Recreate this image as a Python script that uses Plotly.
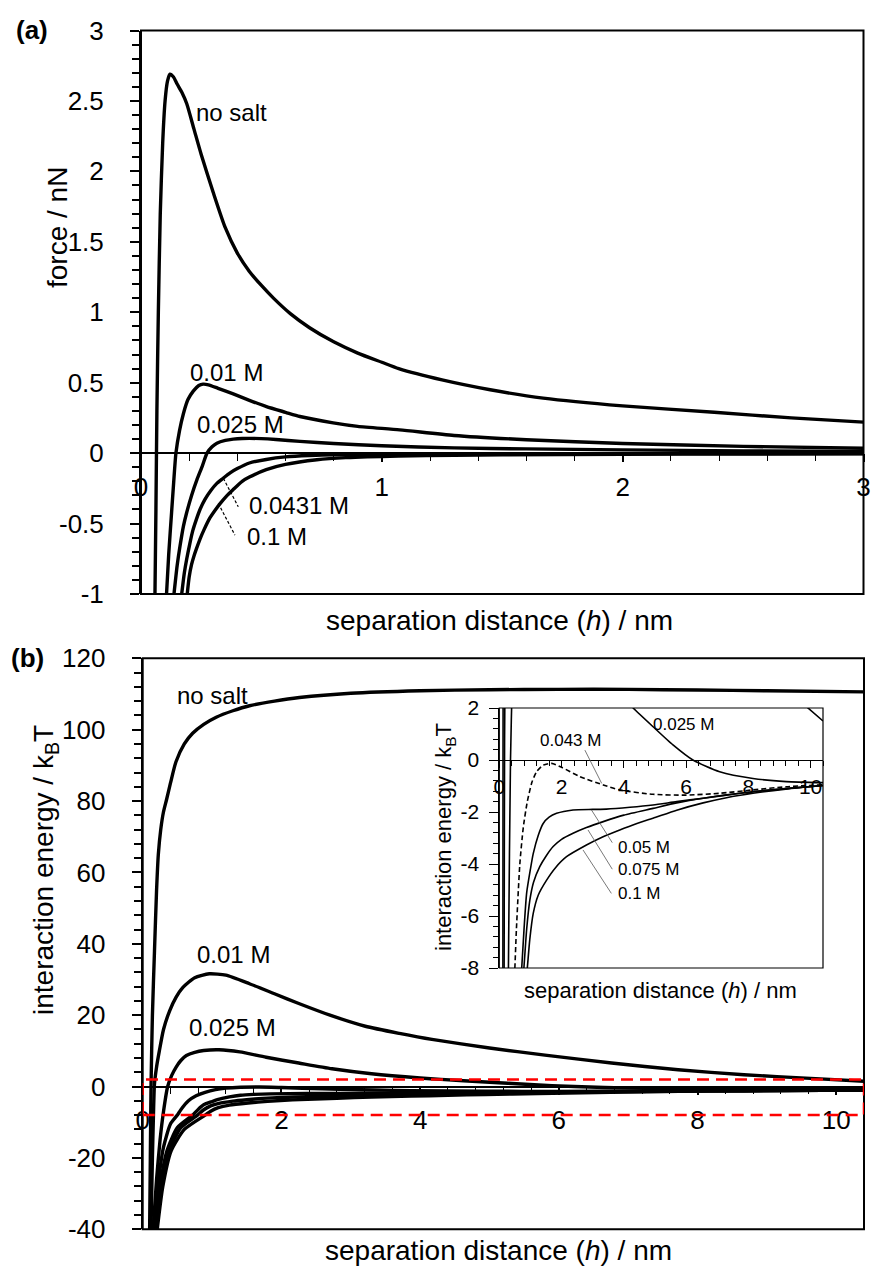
import plotly.graph_objects as go

W, H = 871, 1267
FONT = "Liberation Sans, Arial, Helvetica, sans-serif"

# ---------------- Panel (a): force / nN vs separation distance ----------------
a_nosalt_h = [0.058, 0.062, 0.066, 0.072, 0.08, 0.09, 0.10, 0.11, 0.12, 0.135, 0.15, 0.17, 0.19, 0.22,
              0.25, 0.30, 0.35, 0.40, 0.45, 0.50, 0.55, 0.62, 0.70, 0.80, 0.90, 1.0, 1.07, 1.25, 1.45, 1.67,
              2.0, 2.38, 2.7, 3.0]
a_nosalt_F = [-1.0, -0.4, 0.3, 1.0, 1.7, 2.2, 2.5, 2.64, 2.69, 2.67, 2.62, 2.56, 2.48, 2.3,
              2.12, 1.85, 1.6, 1.42, 1.29, 1.19, 1.10, 0.99, 0.89, 0.79, 0.71, 0.645, 0.60, 0.52, 0.45, 0.39,
              0.335, 0.29, 0.25, 0.22]

a_001_h = [0.106, 0.115, 0.127, 0.136, 0.145, 0.16, 0.176, 0.195, 0.217, 0.24, 0.258, 0.28, 0.32, 0.383,
           0.45, 0.521, 0.6, 0.66, 0.798, 0.9, 1.074, 1.3, 1.6, 2.0, 2.5, 3.0]
a_001_F = [-1.0, -0.72, -0.42, -0.2, 0.0, 0.16, 0.28, 0.38, 0.44, 0.48, 0.49, 0.485, 0.46, 0.42,
           0.375, 0.33, 0.29, 0.26, 0.215, 0.19, 0.165, 0.125, 0.095, 0.068, 0.048, 0.035]

a_0025_h = [0.137, 0.15, 0.162, 0.176, 0.19, 0.21, 0.232, 0.255, 0.274, 0.295, 0.315, 0.35, 0.383, 0.42,
            0.45, 0.5, 0.56, 0.66, 0.8, 1.0, 1.3, 1.6, 2.0, 2.5, 3.0]
a_0025_F = [-1.0, -0.8, -0.66, -0.52, -0.42, -0.3, -0.19, -0.09, 0.0, 0.045, 0.07, 0.09, 0.099, 0.104,
            0.105, 0.103, 0.097, 0.083, 0.068, 0.052, 0.037, 0.03, 0.023, 0.016, 0.012]

a_00431_h = [0.169, 0.18, 0.19, 0.203, 0.215, 0.23, 0.245, 0.265, 0.29, 0.315, 0.34, 0.37, 0.40, 0.45,
             0.52, 0.6, 0.7, 0.8, 1.0, 1.5, 2.0, 2.5, 3.0]
a_00431_F = [-1.0, -0.85, -0.75, -0.64, -0.55, -0.47, -0.40, -0.33, -0.265, -0.215, -0.18, -0.14, -0.11, -0.07,
             -0.045, -0.027, -0.017, -0.012, -0.008, -0.005, -0.004, -0.003, -0.003]

a_01_h = [0.192, 0.2, 0.21, 0.22, 0.23, 0.245, 0.26, 0.286, 0.31, 0.33, 0.355, 0.382, 0.42, 0.45,
          0.52, 0.6, 0.73, 0.85, 1.07, 1.3, 1.5, 2.0, 2.5, 3.0]
a_01_F = [-1.0, -0.88, -0.79, -0.73, -0.68, -0.61, -0.55, -0.46, -0.40, -0.355, -0.305, -0.26, -0.2, -0.17,
          -0.117, -0.08, -0.047, -0.032, -0.02, -0.015, -0.012, -0.008, -0.006, -0.005]

a_xtickvals = [0, 1, 2, 3]
a_xticktext = ["0", "1", "2", "3"]
a_ytickvals = [-1, -0.5, 0, 0.5, 1, 1.5, 2, 2.5, 3]
a_yticktext = ["-1", "-0.5", "0", "0.5", "1", "1.5", "2", "2.5", "3"]

# ---------------- Panel (b): interaction energy / kBT vs separation distance ----------------
b_nosalt_h = [0.10, 0.11, 0.12, 0.14, 0.17, 0.20, 0.225, 0.26, 0.30, 0.345, 0.40, 0.48, 0.60, 0.72, 0.88,
              1.06, 1.3, 1.54, 1.9, 2.26, 3.0, 4.0, 5.0, 6.0, 7.0, 8.0, 9.0, 10.4]
b_nosalt_E = [-40, -20, 0, 20, 38, 55, 65, 72, 77, 80.5, 85, 91, 96, 99, 101.5,
              103.5, 105.3, 106.7, 108, 109, 110.2, 110.9, 111.2, 111.3, 111.3, 111.1, 110.9, 110.6]

b_001_h = [0.12, 0.14, 0.155, 0.17, 0.2, 0.24, 0.3, 0.39, 0.48, 0.58, 0.75, 0.96, 1.2, 1.54, 1.9,
           2.26, 2.7, 3.21, 3.7, 4.17, 5.0, 5.8, 6.76, 7.72, 8.67, 9.63, 10.4]
b_001_E = [-40, -20, -8, 0.8, 5.5, 10, 16, 21.3, 25, 27.8, 30.5, 31.6, 31.2, 28.8, 26,
           23.2, 20, 16.9, 14.9, 13.2, 10.8, 8.8, 6.6, 4.7, 3.3, 2.3, 1.5]

b_0025_h = [0.15, 0.2, 0.25, 0.3, 0.36, 0.42, 0.48, 0.55, 0.63, 0.75, 0.88, 1.1, 1.4, 1.78, 2.25,
            2.73, 3.3, 4.0, 4.3, 4.94, 5.58, 6.22, 7.08, 8.15, 9.22, 10.4]
b_0025_E = [-40, -26, -15, -7, 0, 3.2, 5.4, 7.3, 8.7, 9.6, 10.1, 10.3, 9.7, 8.2, 6.6,
            5.0, 3.6, 2.4, 2.0, 1.28, 0.58, 0.0, -0.45, -0.71, -0.83, -0.87]

b_0043_h = [0.17, 0.22, 0.3, 0.4, 0.5, 0.55, 0.66, 0.77, 0.9, 1.05, 1.2, 1.41, 1.68, 2.0, 2.59,
            3.34, 3.87, 4.94, 6.0, 7.08, 8.15, 9.22, 10.4]
b_0043_E = [-40, -28, -17, -10.5, -8, -6.5, -4.0, -2.6, -1.6, -0.85, -0.45, -0.2, -0.13, -0.28, -0.64,
            -0.96, -1.15, -1.32, -1.35, -1.28, -1.15, -1.03, -0.95]

b_005_h = [0.19, 0.25, 0.35, 0.5, 0.72, 0.8, 0.88, 1.0, 1.09, 1.25, 1.41, 1.6, 1.84, 2.37, 3.0,
           3.44, 4.2, 4.94, 5.7, 6.55, 7.3, 8.15, 9.2, 10.4]
b_005_E = [-40, -28, -18, -11.5, -8, -6.4, -5.1, -4.2, -3.6, -2.9, -2.44, -2.2, -2.05, -1.92, -1.9,
           -1.89, -1.82, -1.73, -1.6, -1.47, -1.35, -1.22, -1.1, -0.98]

b_0075_h = [0.2, 0.27, 0.38, 0.55, 0.79, 0.88, 0.98, 1.1, 1.3, 1.5, 1.73, 2.0, 2.37, 2.8, 3.34,
            4.0, 4.94, 5.7, 6.55, 7.3, 8.15, 9.2, 10.4]
b_0075_E = [-40, -28, -18, -11.5, -8, -6.5, -5.4, -4.7, -4.1, -3.7, -3.33, -3.05, -2.82, -2.6, -2.37,
            -2.12, -1.86, -1.65, -1.47, -1.34, -1.22, -1.1, -0.98]

b_01_h = [0.21, 0.29, 0.41, 0.6, 0.9, 0.98, 1.09, 1.25, 1.52, 1.8, 2.16, 2.8, 3.3, 3.87, 4.4,
          4.94, 5.7, 6.55, 7.3, 8.15, 9.2, 10.4]
b_01_E = [-40, -28, -18, -12, -8, -6.9, -5.9, -5.2, -4.62, -4.15, -3.72, -3.27, -2.97, -2.69, -2.45,
          -2.24, -1.93, -1.65, -1.45, -1.28, -1.12, -0.98]

b_xtickvals = [0, 2, 4, 6, 8, 10]
b_xticktext = ["0", "2", "4", "6", "8", "10"]
b_ytickvals = [-40, -20, 0, 20, 40, 60, 80, 100, 120]
b_yticktext = ["-40", "-20", "0", "20", "40", "60", "80", "100", "120"]

i_xtickvals = [0, 2, 4, 6, 8, 10]
i_xticktext = ["0", "2", "4", "6", "8", "10"]
i_ytickvals = [-8, -6, -4, -2, 0, 2]
i_yticktext = ["-8", "-6", "-4", "-2", "0", "2"]

A_XRANGE, A_YRANGE = [0, 3], [-1, 3]
B_XRANGE, B_YRANGE = [0, 10.4], [-40, 120]
I_XRANGE, I_YRANGE = [0, 10.4], [-8, 2]

# ---------------- layout geometry (pixels) ----------------
def px(x):
    return x / W

def py(y):
    return 1 - y / H

A_XDOM = [px(141), px(863.5)]
A_YDOM = [py(594), py(30.5)]
B_XDOM = [px(142.7), px(864)]
B_YDOM = [py(1229.3), py(658.3)]
I_XDOM = [px(499.3), px(823)]
I_YDOM = [py(968), py(708)]


def zero_pos(ydom, yr):
    return ydom[0] + (0 - yr[0]) / (yr[1] - yr[0]) * (ydom[1] - ydom[0])


def xaxis(dom, rng, pos, vals, text, dmin, fs, tl, mtl, standoff, lw):
    return dict(domain=dom, range=rng, anchor="free", position=pos, showline=True, automargin=False,
                linecolor="black", linewidth=lw, ticks="outside", ticklen=tl, tickwidth=lw,
                tickcolor="black", tickmode="array", tickvals=vals, ticktext=text,
                tickfont=dict(size=fs, color="black", family=FONT), showgrid=False, zeroline=False,
                ticklabelstandoff=standoff,
                minor=dict(ticks="outside", ticklen=mtl, tickwidth=lw * 0.8, tickcolor="black",
                           tick0=0, dtick=dmin, showgrid=False))


def yaxis(dom, rng, anchor, vals, text, dmin, fs, tl, mtl, standoff, lw):
    return dict(domain=dom, range=rng, anchor=anchor, side="left", showline=True, automargin=False,
                linecolor="black", linewidth=lw, ticks="outside", ticklen=tl, tickwidth=lw,
                tickcolor="black", tickmode="array", tickvals=vals, ticktext=text,
                tickfont=dict(size=fs, color="black", family=FONT), showgrid=False, zeroline=False,
                ticklabelstandoff=standoff,
                minor=dict(ticks="outside", ticklen=mtl, tickwidth=lw * 0.8, tickcolor="black",
                           tick0=0, dtick=dmin, showgrid=False))


def inner_ticks_x(over, dom, rng, pos, vals, tl, lw):
    # the inner half of the major ticks (major ticks cross the axis line)
    return dict(overlaying=over, domain=dom, range=rng, anchor="free", position=pos, showline=False,
                automargin=False, ticks="inside", ticklen=tl, tickwidth=lw, tickcolor="black",
                tickmode="array", tickvals=vals, showticklabels=False, showgrid=False, zeroline=False)


def inner_ticks_y(over, dom, rng, anchor, vals, tl, lw):
    return dict(overlaying=over, domain=dom, range=rng, anchor=anchor, side="left", showline=False,
                automargin=False, ticks="inside", ticklen=tl, tickwidth=lw, tickcolor="black",
                tickmode="array", tickvals=vals, showticklabels=False, showgrid=False, zeroline=False)


fig = go.Figure()

MAIN_LW = 3.4
INSET_LW = 1.6


def add_line(x, y, xa, ya, width, dash="solid"):
    fig.add_trace(go.Scatter(x=x, y=y, mode="lines", xaxis=xa, yaxis=ya,
                             line=dict(color="black", width=width, dash=dash, shape="spline", smoothing=0.6),
                             showlegend=False, hoverinfo="skip"))


# panel (a)
for hx, fy in [(a_nosalt_h, a_nosalt_F), (a_001_h, a_001_F), (a_0025_h, a_0025_F),
               (a_00431_h, a_00431_F), (a_01_h, a_01_F)]:
    add_line(hx, fy, "x", "y", MAIN_LW)

# panel (b)
b_sets = [(b_nosalt_h, b_nosalt_E), (b_001_h, b_001_E), (b_0025_h, b_0025_E), (b_0043_h, b_0043_E),
          (b_005_h, b_005_E), (b_0075_h, b_0075_E), (b_01_h, b_01_E)]
for hx, ey in b_sets:
    add_line(hx, ey, "x2", "y2", MAIN_LW)

# inset
for k, (hx, ey) in enumerate(b_sets):
    add_line(hx, ey, "x3", "y3", INSET_LW, dash="5px,3px" if k == 3 else "solid")

A_X0 = zero_pos(A_YDOM, A_YRANGE)
B_X0 = zero_pos(B_YDOM, B_YRANGE)
I_X0 = zero_pos(I_YDOM, I_YRANGE)

TICK_FS = 26

fig.update_layout(
    width=W, height=H, autosize=False, margin=dict(l=0, r=0, t=0, b=0, pad=0, autoexpand=False),
    paper_bgcolor="white", plot_bgcolor="white", showlegend=False,
    font=dict(family=FONT, color="black"),
    xaxis=xaxis(A_XDOM, A_XRANGE, A_X0, a_xtickvals, a_xticktext, 0.2, TICK_FS, 8, 7, 3, 1.5),
    yaxis=yaxis(A_YDOM, A_YRANGE, "x", a_ytickvals, a_yticktext, 0.1, TICK_FS, 9, 7, 21, 2),
    xaxis2=xaxis(B_XDOM, B_XRANGE, B_X0, b_xtickvals, b_xticktext, 0.4, TICK_FS, 8, 7, 2, 1.5),
    yaxis2=yaxis(B_YDOM, B_YRANGE, "x2", b_ytickvals, b_yticktext, 4, TICK_FS, 9, 7, 21, 2),
    xaxis3=xaxis(I_XDOM, I_XRANGE, I_X0, i_xtickvals, i_xticktext, 0.4, 21, 7, 5, 1, 1),
    yaxis3=yaxis(I_YDOM, I_YRANGE, "x3", i_ytickvals, i_yticktext, 0.4, 21, 9, 5, 6, 1),
    xaxis4=inner_ticks_x("x", A_XDOM, A_XRANGE, A_X0, a_xtickvals, 7, 1.5),
    yaxis4=inner_ticks_y("y", A_YDOM, A_YRANGE, "x", a_ytickvals, 8, 2),
    xaxis5=inner_ticks_x("x2", B_XDOM, B_XRANGE, B_X0, b_xtickvals, 7, 1.5),
    yaxis5=inner_ticks_y("y2", B_YDOM, B_YRANGE, "x2", b_ytickvals, 8, 2),
    xaxis6=inner_ticks_x("x3", I_XDOM, I_XRANGE, I_X0, i_xtickvals, 5, 1),
)

shapes = []
# frames
for xr, yr, lw in [("x domain", "y domain", 2), ("x2 domain", "y2 domain", 2), ("x3 domain", "y3 domain", 1.2)]:
    shapes.append(dict(type="rect", xref=xr, yref=yr, x0=0, x1=1, y0=0, y1=1,
                       line=dict(color="black", width=lw), layer="above"))
# red dashed rectangle marking the inset range on panel (b)
shapes.append(dict(type="rect", xref="x2", yref="y2", x0=I_XRANGE[0], x1=I_XRANGE[1],
                   y0=I_YRANGE[0], y1=I_YRANGE[1], line=dict(color="#ff0000", width=2.5, dash="12px,7px"),
                   layer="above"))
# leader lines panel (a) (dashed)
for (x0, y0, x1, y1) in [(0.342, -0.179, 0.404, -0.381), (0.321, -0.357, 0.39, -0.582)]:
    shapes.append(dict(type="line", xref="x", yref="y", x0=x0, y0=y0, x1=x1, y1=y1,
                       line=dict(color="black", width=1.2, dash="3px,2px")))
# leader lines inset
for (x0, y0, x1, y1) in [(2.75, 0.38, 3.29, -0.90), (2.96, -1.92, 3.63, -3.18),
                         (2.85, -2.69, 3.63, -4.20), (2.69, -3.46, 3.6, -5.13)]:
    shapes.append(dict(type="line", xref="x3", yref="y3", x0=x0, y0=y0, x1=x1, y1=y1,
                       line=dict(color="#555555", width=0.8)))
fig.update_layout(shapes=shapes)

ann = []


def label(text, x, y, xr, yr, size, xanchor="left"):
    ann.append(dict(text=text, x=x, y=y, xref=xr, yref=yr, showarrow=False, xanchor=xanchor,
                    yanchor="middle", font=dict(size=size, color="black", family=FONT)))


# curve labels (a)
label("no salt", 0.22, 2.42, "x", "y", 24)
label("0.01 M", 0.195, 0.573, "x", "y", 24)
label("0.025 M", 0.224, 0.206, "x", "y", 24)
label("0.0431 M", 0.439, -0.37, "x", "y", 24)
label("0.1 M", 0.432, -0.59, "x", "y", 24)
# curve labels (b)
label("no salt", 0.46, 109.7, "x2", "y2", 24)
label("0.01 M", 0.75, 37.1, "x2", "y2", 24)
label("0.025 M", 0.64, 16.5, "x2", "y2", 24)
# inset labels
label("0.025 M", 4.88, 1.38, "x3", "y3", 17)
label("0.043 M", 1.25, 0.76, "x3", "y3", 17)
label("0.05 M", 3.76, -3.36, "x3", "y3", 17)
label("0.075 M", 3.76, -4.22, "x3", "y3", 17)
label("0.1 M", 3.76, -5.14, "x3", "y3", 17)


def ptext(text, x, y, size, angle=0, bold=False):
    ann.append(dict(text=("<b>%s</b>" % text) if bold else text, x=px(x), y=py(y), xref="paper",
                    yref="paper", showarrow=False, xanchor="center", yanchor="middle", textangle=angle,
                    font=dict(size=size, color="black", family=FONT)))


ptext("(a)", 32, 30, 26, bold=True)
ptext("(b)", 27, 658, 26, bold=True)
ptext("force / nN", 57, 228, 28, angle=-90)
ptext("separation distance (<i>h</i>) / nm", 500, 620, 28)
ptext("interaction energy / k<sub>B</sub>T", 45, 870, 28, angle=-90)
ptext("separation distance (<i>h</i>) / nm", 498, 1250, 28)
ptext("interaction energy / k<sub>B</sub>T", 445, 837, 22, angle=-90)
ptext("separation distance (<i>h</i>) / nm", 660, 990, 22)

fig.update_layout(annotations=ann)

fig.write_html("out.html", config={"displayModeBar": False},
               post_script="document.body.style.margin='0px';document.body.style.padding='0px';")
